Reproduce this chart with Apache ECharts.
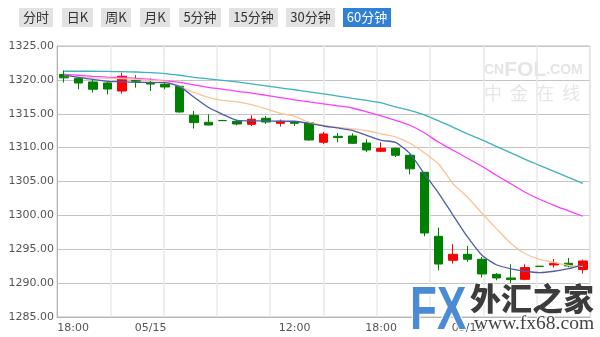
<!DOCTYPE html>
<html>
<head>
<meta charset="utf-8">
<script src="https://cdn.jsdelivr.net/npm/echarts@6/dist/echarts.min.js"></script>
<style>
html,body{margin:0;padding:0;background:#fff;}
#chart{width:600px;height:337px;}
</style>
</head>
<body>
<div id="chart"></div>
<script>
// ---- data ----
var categories = [
  '05/14 18:00','05/14 19:00','05/14 20:00','05/14 21:00','05/14 22:00','05/14 23:00',
  '05/15 00:00','05/15 01:00','05/15 02:00','05/15 03:00','05/15 04:00','05/15 07:00',
  '05/15 08:00','05/15 09:00','05/15 10:00','05/15 11:00','05/15 12:00','05/15 13:00',
  '05/15 14:00','05/15 15:00','05/15 16:00','05/15 17:00','05/15 18:00','05/15 19:00',
  '05/15 20:00','05/15 21:00','05/15 22:00','05/15 23:00','05/16 00:00','05/16 01:00',
  '05/16 02:00','05/16 03:00','05/16 04:00','05/16 07:00','05/16 08:00','05/16 09:00',
  '05/16 10:00'
];
var opens  = [1320.8,1320.19,1319.69,1319.54,1318.36,1319.9,1319.6,1319.35,1319.05,1314.77,1313.74,1314.0,
              1313.89,1313.44,1314.33,1313.59,1313.78,1313.69,1310.79,1311.67,1311.72,1310.68,1309.46,1309.9,
              1308.87,1306.36,1296.91,1293.37,1294.25,1293.52,1291.3,1290.76,1290.56,1292.49,1292.68,1292.93,1292.0];
var closes = [1320.3,1319.54,1318.61,1318.65,1320.53,1319.8,1319.39,1318.95,1315.26,1313.69,1313.34,1313.98,
              1313.49,1314.18,1313.78,1313.89,1313.59,1311.13,1312.01,1311.48,1310.64,1309.65,1309.9,1308.87,
              1306.87,1297.4,1292.82,1294.25,1293.52,1291.35,1290.76,1290.52,1292.29,1292.47,1292.93,1292.53,1293.27];
var lows   = [1319.6,1318.61,1318.12,1317.87,1317.97,1318.86,1318.36,1318.61,1315.17,1312.81,1313.3,1313.98,
              1313.3,1313.19,1313.49,1313.1,1313.19,1311.04,1310.54,1310.79,1310.54,1309.35,1309.35,1308.62,
              1306.06,1296.91,1291.89,1292.88,1293.12,1290.82,1290.42,1290.02,1290.42,1292.47,1292.29,1292.34,1291.41];
var highs  = [1321.4,1320.2,1320.09,1319.7,1321.07,1320.68,1320.23,1319.69,1319.1,1315.41,1314.92,1314.0,
              1314.14,1314.77,1314.67,1314.14,1313.93,1313.89,1312.31,1312.16,1312.11,1311.23,1310.79,1310.0,
              1309.01,1306.4,1298.2,1295.73,1295.48,1293.86,1291.49,1292.78,1292.78,1292.49,1293.56,1293.71,1293.47];
var ma5  = [1320.75,1320.38,1320.08,1319.79,1319.72,1319.64,1319.64,1319.60,1319.05,1317.47,1315.95,1314.92,
            1314.03,1313.96,1313.96,1313.89,1313.89,1313.55,1313.19,1312.90,1312.56,1311.82,1311.08,1310.78,
            1309.11,1306.16,1303.26,1300.01,1296.81,1294.11,1292.71,1292.12,1291.75,1291.56,1291.75,1292.14,1292.71];
var ma10 = [1320.68,1320.45,1320.31,1320.23,1320.19,1320.08,1319.94,1319.79,1319.05,1318.16,1317.43,1316.98,
            1316.76,1316.35,1315.73,1315.07,1314.62,1313.74,1313.30,1313.00,1312.78,1312.49,1312.04,1311.60,
            1310.64,1309.24,1307.54,1304.66,1302.67,1300.31,1298.05,1295.88,1294.33,1293.52,1293.07,1292.63,1292.48];
var ma20 = [1320.82,1320.68,1320.53,1320.42,1320.34,1320.23,1320.08,1319.86,1319.64,1319.27,1318.90,1318.64,
            1318.31,1318.05,1317.72,1317.39,1317.06,1316.76,1316.47,1316.17,1315.85,1315.29,1314.70,1314.03,
            1313.30,1312.19,1310.79,1309.61,1308.43,1307.25,1305.92,1304.67,1303.41,1302.38,1301.49,1300.68,1299.87];
var ma30 = [1321.27,1321.27,1321.27,1321.24,1321.21,1321.16,1321.07,1320.93,1320.68,1320.38,1320.16,1319.94,
            1319.69,1319.42,1319.13,1318.83,1318.54,1318.24,1317.94,1317.61,1317.28,1316.96,1316.62,1316.02,
            1315.51,1314.84,1313.96,1313.00,1312.04,1311.15,1310.19,1309.23,1308.27,1307.39,1306.50,1305.61,1304.73];
var xLabelTimes = ['05/14 18:00','05/15 00:00','05/15 12:00','05/15 18:00','05/16 00:00'];
var yTicks = [1285,1290,1295,1300,1305,1310,1315,1320,1325];
var buttonLabels = ['分时','日K','周K','月K','5分钟','15分钟','30分钟','60分钟'];
var activeButton = '60分钟';

// ---- build ----
var kData = categories.map(function(c,i){ return [opens[i], closes[i], lows[i], highs[i]]; });

var btnBoxes = [[19,53],[62,93],[101,131],[140,170],[179,221],[229,278],[286,335],[343,391]];
var graphics = [];
buttonLabels.forEach(function(lbl,i){
  var b = btnBoxes[i], act = lbl === activeButton;
  graphics.push({type:'rect', shape:{x:b[0], y:8, width:b[1]-b[0], height:19},
    style:{fill: act ? '#2f80d6' : '#e2e2e2'}, z:10});
  graphics.push({type:'text', x:(b[0]+b[1])/2, y:17.5,
    style:{text:lbl, fill: act ? '#ffffff' : '#333333', font:'13px "Noto Sans CJK SC"',
      textAlign:'center', textVerticalAlign:'middle'}, z:11});
});
// CNFOL watermark
graphics.push({type:'text', x:484, y:70, z:-5, silent:true,
  style:{text:'{a|CN}{b|FOL}{a|.COM}', textVerticalAlign:'middle',
    rich:{a:{fontSize:14, fontWeight:'bold', fill:'#e4e4e4', fontFamily:'Liberation Sans'},
          b:{fontSize:21, fontWeight:'bold', fill:'#e4e4e4', fontFamily:'Liberation Sans'}}}});
graphics.push({type:'text', x:484, y:93, z:-5, silent:true,
  style:{text:'中  金  在  线', fill:'#e6e6e6', font:'18px "Noto Sans CJK SC"', textVerticalAlign:'middle'}});
// fx68 logo
graphics.push({type:'text', x:410, y:281, scaleY:1.4, z:100, silent:true,
  style:{text:'FX', font:'bold 44px "Liberation Sans"', textVerticalAlign:'top',
    fill:'#4b8bd5', stroke:'#ffffff', lineWidth:2}});
graphics.push({type:'text', x:470, y:298, z:100, silent:true,
  style:{text:'外汇之家', font:'900 31px "Noto Sans CJK SC"', fill:'#3c3c3c', textVerticalAlign:'middle',
    stroke:'#ffffff', lineWidth:2}});
graphics.push({type:'text', x:474, y:323.5, z:100, silent:true,
  style:{text:'www.fx68.com', font:'19.5px "Liberation Serif"', fill:'#444444', textVerticalAlign:'middle',
    stroke:'#ffffff', lineWidth:2}});

var chart = echarts.init(document.getElementById('chart'), null, {renderer:'canvas'});
chart.setOption({
  animation:false,
  backgroundColor:'#ffffff',
  grid:{left:57, right:10, top:46, bottom:20, show:true, borderColor:'#bcbcbc', borderWidth:1, backgroundColor:'transparent'},
  xAxis:[{
    type:'category', data:categories, boundaryGap:true,
    axisLine:{show:true, lineStyle:{color:'#b4b4b4'}},
    axisTick:{show:false},
    splitLine:{show:false},
    axisLabel:{
      color:'#555', fontSize:11, fontFamily:'DejaVu Sans', margin:6,
      interval:function(idx, val){ return xLabelTimes.indexOf(val) >= 0; },
      formatter:function(val, idx){
        var p = val.split(' ');
        var t = p[1] === '00:00' ? p[0] : p[1];
        return idx === 0 ? '{f|' + t + '}' : t;
      },
      rich:{f:{color:'#555', fontSize:11, fontFamily:'DejaVu Sans', padding:[0,0,0,18]}}
    }
  },{
    type:'value', min:0, max:10, interval:1, position:'bottom',
    axisLine:{show:false}, axisTick:{show:false}, axisLabel:{show:false},
    splitLine:{show:true, lineStyle:{color:'#e8e8e8', width:1.5}}
  }],
  yAxis:{
    type:'value', min:yTicks[0], max:yTicks[yTicks.length-1], interval:5, scale:true,
    axisLine:{show:true, lineStyle:{color:'#b4b4b4'}},
    axisTick:{show:false},
    axisLabel:{color:'#555', fontSize:11, fontFamily:'DejaVu Sans', margin:3,
      formatter:function(v){ return v.toFixed(2); }},
    splitLine:{show:true, lineStyle:{color:'#c4c4c4', width:1}}
  },
  graphic:graphics,
  series:[
    {type:'candlestick', data:kData, barWidth:9,
     itemStyle:{color:'#ff0000', color0:'#008000', borderColor:'#ff0000', borderColor0:'#008000', borderWidth:1}},
    {type:'line', data:ma30, showSymbol:false, smooth:0.2, lineStyle:{color:'#3fb2ba', width:1.3}},
    {type:'line', data:ma20, showSymbol:false, smooth:0.2, lineStyle:{color:'#ff3cff', width:1.3}},
    {type:'line', data:ma10, showSymbol:false, smooth:0.2, lineStyle:{color:'#f8c496', width:1.3}},
    {type:'line', data:ma5,  showSymbol:false, smooth:0.2, lineStyle:{color:'#4e5ca8', width:1.3}}
  ]
});
</script>
</body>
</html>
